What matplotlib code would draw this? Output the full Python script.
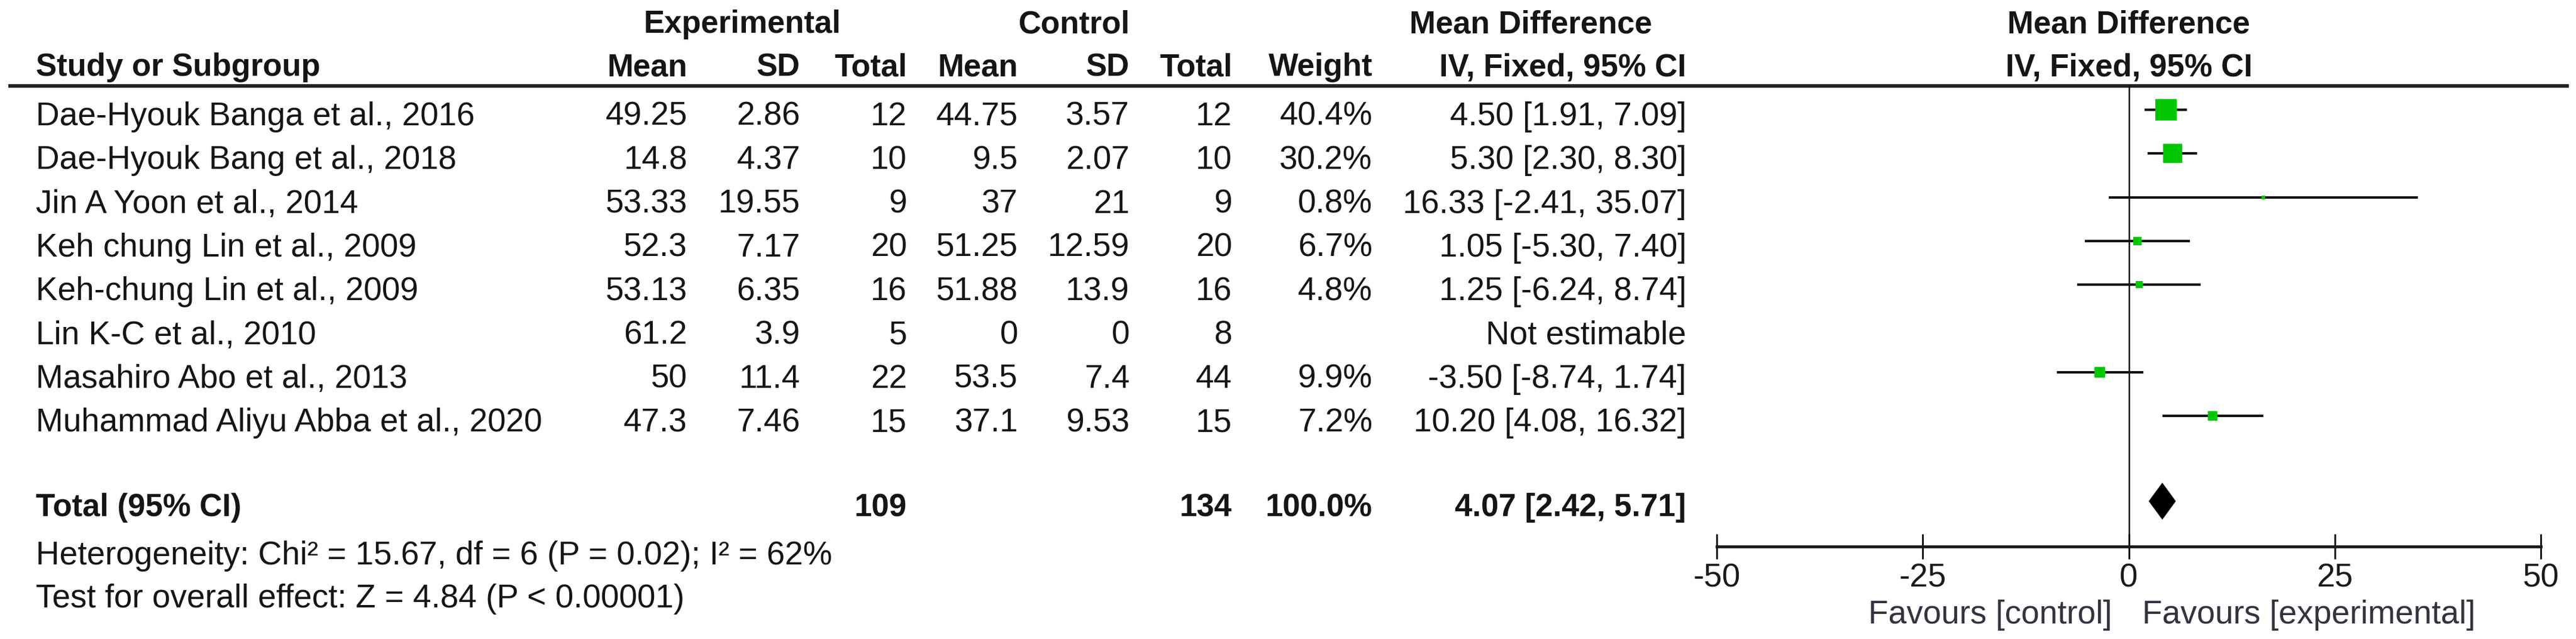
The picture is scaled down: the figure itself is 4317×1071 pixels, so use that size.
import matplotlib
matplotlib.use("Agg")
import matplotlib.pyplot as plt
import numpy as np

plt.rcParams['font.family'] = ['Liberation Sans', 'DejaVu Sans']
plt.rcParams['axes.unicode_minus'] = False

# data
studies = ["Dae-Hyouk Banga et al., 2016", "Dae-Hyouk Bang et al., 2018",
           "Jin A Yoon et al., 2014", "Keh chung Lin et al., 2009",
           "Keh-chung Lin et al., 2009", "Lin K-C et al., 2010",
           "Masahiro Abo et al., 2013", "Muhammad Aliyu Abba et al., 2020"]
exp_mean = [49.25, 14.8, 53.33, 52.3, 53.13, 61.2, 50, 47.3]
exp_sd = [2.86, 4.37, 19.55, 7.17, 6.35, 3.9, 11.4, 7.46]
exp_n = [12, 10, 9, 20, 16, 5, 22, 15]
ctl_mean = [44.75, 9.5, 37, 51.25, 51.88, 0, 53.5, 37.1]
ctl_sd = [3.57, 2.07, 21, 12.59, 13.9, 0, 7.4, 9.53]
ctl_n = [12, 10, 9, 20, 16, 8, 44, 15]
weight = [40.4, 30.2, 0.8, 6.7, 4.8, None, 9.9, 7.2]
md = [4.50, 5.30, 16.33, 1.05, 1.25, None, -3.50, 10.20]
ci_lo = [1.91, 2.30, -2.41, -5.30, -6.24, None, -8.74, 4.08]
ci_hi = [7.09, 8.30, 35.07, 7.40, 8.74, None, 1.74, 16.32]

total_exp = 109
total_ctl = 134
pooled_md, pooled_lo, pooled_hi = 4.07, 2.42, 5.71
heterogeneity = "Heterogeneity: Chi² = 15.67, df = 6 (P = 0.02); I² = 62%"
overall = "Test for overall effect: Z = 4.84 (P < 0.00001)"
xticks = [-50, -25, 0, 25, 50]

W, H = 4317, 1071
fig = plt.figure(figsize=(W / 100, H / 100), dpi=100)
fig.patch.set_facecolor('white')

# table axes in pixel coordinates
tab = fig.add_axes([0, 0, 1, 1])
tab.set_xlim(0, W)
tab.set_ylim(H, 0)
tab.axis('off')

fs = 39.5   # regular text
fb = 38     # bold text
txt = '#151515'
cols = [1152, 1341, 1520, 1706, 1893, 2065, 2300, 2826]
name_x = 60
row0, dy = 210, 73.3

# headers
hb1, hb2 = 55, 127
tab.text(1244, hb1, "Experimental", ha='center', va='baseline', fontsize=fb, fontweight='bold', color=txt)
tab.text(1800, hb1, "Control", ha='center', va='baseline', fontsize=fb, fontweight='bold', color=txt)
tab.text(2565, hb1, "Mean Difference", ha='center', va='baseline', fontsize=fb, fontweight='bold', color=txt)
tab.text(name_x, hb2, "Study or Subgroup", ha='left', va='baseline', fontsize=fb, fontweight='bold', color=txt)
for x, h in zip(cols, ["Mean", "SD", "Total", "Mean", "SD", "Total", "Weight", "IV, Fixed, 95% CI"]):
    tab.text(x, hb2, h, ha='right', va='baseline', fontsize=fb, fontweight='bold', color=txt)
tab.plot([14, 4305], [144, 144], color='#222222', lw=4.3, solid_capstyle='butt')

# study rows
for i, s in enumerate(studies):
    yb = row0 + i * dy
    tab.text(name_x, yb, s, ha='left', va='baseline', fontsize=fs, color=txt)
    vals = [f"{exp_mean[i]:g}", f"{exp_sd[i]:g}", f"{exp_n[i]}",
            f"{ctl_mean[i]:g}", f"{ctl_sd[i]:g}", f"{ctl_n[i]}"]
    if md[i] is None:
        vals += ["", "Not estimable"]
    else:
        vals += [f"{weight[i]:.1f}%", f"{md[i]:.2f} [{ci_lo[i]:.2f}, {ci_hi[i]:.2f}]"]
    for x, v in zip(cols, vals):
        tab.text(x, yb, v, ha='right', va='baseline', fontsize=fs, color=txt)

# total row
tb = 865
tab.text(name_x, tb, "Total (95% CI)", ha='left', va='baseline', fontsize=fb, fontweight='bold', color=txt)
for x, v in zip([cols[2], cols[5], cols[6], cols[7]],
                [str(total_exp), str(total_ctl), "100.0%",
                 f"{pooled_md:.2f} [{pooled_lo:.2f}, {pooled_hi:.2f}]"]):
    tab.text(x, tb, v, ha='right', va='baseline', fontsize=fb, fontweight='bold', color=txt)
tab.text(name_x, 946, heterogeneity, ha='left', va='baseline', fontsize=fs, color=txt)
tab.text(name_x, 1018, overall, ha='left', va='baseline', fontsize=fs, color=txt)

# forest axes
x0, x1 = 2877, 4258
fx = fig.add_axes([x0 / W, 0, (x1 - x0) / W, 1])
fx.set_xlim(-50, 50)
fx.set_ylim(H, 0)
fx.patch.set_alpha(0)
for sp in ['top', 'right', 'left']:
    fx.spines[sp].set_visible(False)
fx.spines['bottom'].set_position(('data', 916))
fx.spines['bottom'].set_linewidth(3.5)
fx.spines['bottom'].set_color('#1a1a1a')
fx.set_yticks([])
fx.set_xticks(xticks)
fx.set_xticklabels([str(t) for t in xticks])
fx.tick_params(axis='x', direction='inout', length=30, width=2.2, pad=5,
               labelsize=fs, colors='#1a1a1a')

fx.text(0, hb1, "Mean Difference", ha='center', va='baseline', fontsize=fb, fontweight='bold', color=txt)
fx.text(0, hb2, "IV, Fixed, 95% CI", ha='center', va='baseline', fontsize=fb, fontweight='bold', color=txt)

fx.plot([0, 0], [144, 916], color='#111111', lw=1.8)

for i in range(len(studies)):
    if md[i] is None:
        continue
    yc = row0 + i * dy - 26
    fx.plot([ci_lo[i], ci_hi[i]], [yc, yc], color='#111111', lw=3.0, solid_capstyle='butt')
    fx.plot(md[i], yc, marker='s', ms=4.08 * np.sqrt(weight[i]), color='#00c800', mew=0)

yd = tb - 25
fx.fill([pooled_lo, pooled_md, pooled_hi, pooled_md], [yd, yd - 31, yd, yd + 31],
        color='black', lw=0)

fx.text(-2, 1045, "Favours [control]", ha='right', va='baseline', fontsize=fs, color='#333340')
fx.text(1.6, 1045, "Favours [experimental]", ha='left', va='baseline', fontsize=fs, color='#333340')

fig.savefig("out.png", dpi=100, facecolor='white')
